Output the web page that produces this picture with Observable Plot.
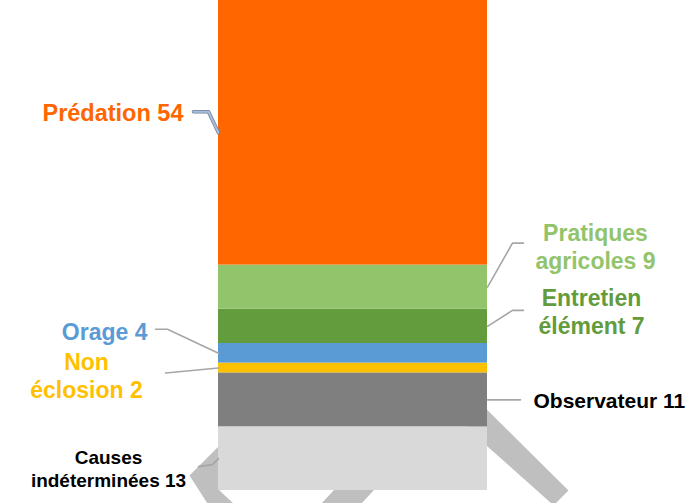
<!DOCTYPE html>
<html>
<head>
<meta charset="utf-8">
<script src="https://cdn.jsdelivr.net/npm/d3@7"></script>
<script src="https://cdn.jsdelivr.net/npm/@observablehq/plot@0.6"></script>
<style>
  html, body { margin: 0; padding: 0; background: #ffffff; }
  #chart svg { display: block; }
</style>
</head>
<body>
<div id="chart"></div>
<script>
// ---- data (bottom to top of the stacked column) ----
const categories = ["Causes\nindéterminées", "Observateur", "Non\néclosion", "Orage", "Entretien\nélément", "Pratiques\nagricoles", "Prédation"];
const values = [13, 11, 2, 4, 7, 9, 54];
const segmentColors = ["#D9D9D9", "#7F7F7F", "#FFC000", "#5B9BD5", "#639C3C", "#92C46B", "#FF6600"];
const labelColors = ["#000000", "#000000", "#FFC000", "#5B9BD5", "#639C3C", "#92C46B", "#FF6600"];

// ---- geometry of the figure ----
const W = 689, H = 503;
const kx = 269, ky = 4.9;       // pixels per x unit (bar width) and per y unit (1 case)
const x0px = 218, y0px = 490;   // left edge / baseline of the column
const xDomain = [-x0px / kx, (W - x0px) / kx];
const yDomain = [-(H - y0px) / ky, y0px / ky];
const toX = px => (px - x0px) / kx;
const toY = py => (y0px - py) / ky;

// label layout: side of the bar, leader bends and label offset (pixels from anchor)
const layout = [
  {side: 1, leader: [[0,0],[-6,6],[-20,8]], text: [-110, 9.5], anchor: "middle", size: 19},
  {side: 2, leader: [[0,0],[33,0]], text: [46, 0], anchor: "start", size: 21},
  {side: 1, leader: [[0,0],[-53,5]], text: [-132, 7], anchor: "middle", size: 23},
  {side: 1, leader: [[0,0],[-51,-24],[-63,-24]], text: [-71, -22], anchor: "end", size: 23},
  {side: 2, leader: [[0,0],[25,-16],[36,-16]], text: [104, -15.5], anchor: "middle", size: 23},
  {side: 2, leader: [[0,0],[25,-44],[36,-44]], text: [108, -41.5], anchor: "middle", size: 23},
  {side: 1, leader: [[0,0],[-10,-21],[-25,-21]], text: [-35, -21], anchor: "end", size: 23.5}
];

// decorative grey frame behind the column (pixel outlines)
const backdrop = [
  [[232,432],[189,475],[207,503],[233,503],[219,490],[240,470]],
  [[321,503],[370,450],[410,450],[361,503]],
  [[460,383],[568,490],[555,503],[551,503],[487,446],[460,420]]
];

// ---- build tables ----
let acc = 0;
const rows = categories.map((c, i) => {
  const r = {category: c, value: values[i], y1: acc, y2: acc + values[i], color: segmentColors[i]};
  acc += values[i];
  return r;
});

const leaderPts = [];
const textRows = [];
rows.forEach((r, i) => {
  const L = layout[i];
  const ax = L.side === 1 ? 0 : 1;
  const ay = (r.y1 + r.y2) / 2;
  L.leader.forEach(([dx, dy]) => leaderPts.push({id: i, x: ax + dx / kx, y: ay - dy / ky}));
  textRows.push({
    i, x: ax + L.text[0] / kx, y: ay - L.text[1] / ky,
    label: `${r.category} ${r.value}`, color: labelColors[i], anchor: L.anchor, size: L.size
  });
});

const backPts = backdrop.flatMap((poly, j) => poly.map(([px, py]) => ({id: j, x: toX(px), y: toY(py)})));

const textMarks = textRows.map(t => Plot.text([t], {
  x: "x", y: "y", text: "label", fill: t.color,
  textAnchor: t.anchor, lineAnchor: "middle", lineHeight: 1.22,
  fontSize: t.size, fontWeight: "bold", fontFamily: "Liberation Sans, Arial, sans-serif"
}));

const predLeader = leaderPts.filter(d => d.id === 6);
const otherLeaders = leaderPts.filter(d => d.id !== 6);

const chart = Plot.plot({
  width: W, height: H,
  marginTop: 0, marginRight: 0, marginBottom: 0, marginLeft: 0,
  x: {domain: xDomain, axis: null},
  y: {domain: yDomain, axis: null},
  color: {type: "identity"},
  style: {background: "#ffffff", overflow: "hidden"},
  marks: [
    Plot.line(backPts, {x: "x", y: "y", z: "id", fill: "#BFBFBF", stroke: "none"}),
    Plot.rect(rows, {x1: () => 0, x2: () => 1, y1: "y1", y2: "y2", fill: "color"}),
    Plot.line(otherLeaders, {x: "x", y: "y", z: "id", stroke: "#A6A6A6", strokeWidth: 1.6}),
    Plot.line(predLeader, {x: "x", y: "y", stroke: "#6F7F95", strokeWidth: 3.6}),
    Plot.line(predLeader, {x: "x", y: "y", stroke: "#A9BEDF", strokeWidth: 2}),
    ...textMarks
  ]
});
document.getElementById("chart").appendChild(chart);
</script>
</body>
</html>
